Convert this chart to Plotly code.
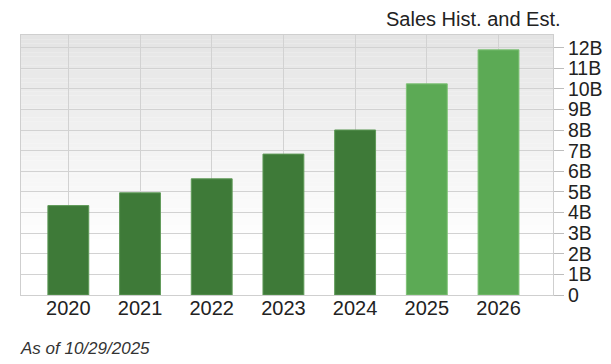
import plotly.graph_objects as go

years = ["2020", "2021", "2022", "2023", "2024", "2025", "2026"]
sales_b = [4.34, 4.96, 5.64, 6.84, 8.01, 10.25, 11.9]
is_estimate = [False, False, False, False, False, True, True]
ytick_vals = [0, 1, 2, 3, 4, 5, 6, 7, 8, 9, 10, 11, 12]
ytick_text = ["0", "1B", "2B", "3B", "4B", "5B", "6B", "7B", "8B", "9B", "10B", "11B", "12B"]

hist_color = "#3e7a38"
est_color = "#5caa55"
colors = [est_color if e else hist_color for e in is_estimate]
line_colors = ["#7fc276" if e else "#5f9a58" for e in is_estimate]

fig = go.Figure()
fig.add_trace(go.Bar(
    x=list(range(len(years))), y=sales_b,
    marker=dict(color=colors, line=dict(color=line_colors, width=1)),
    width=0.57,
))

# gradient background bands
n = 60
shapes = []
for i in range(n):
    y0 = i / n
    y1 = (i + 1) / n
    t = (y0 + y1) / 2
    f = max(0.0, (t - 0.2) / 0.8)
    v = int(round(255 - f * (255 - 228)))
    shapes.append(dict(type="rect", xref="x domain", yref="y domain",
                       x0=0, x1=1, y0=y0, y1=y1, layer="below",
                       line=dict(width=0), fillcolor=f"rgb({v},{v},{v})"))

fig.update_layout(
    width=603, height=356,
    margin=dict(l=13, r=58, t=27, b=69, autoexpand=False),
    paper_bgcolor="white", plot_bgcolor="rgba(0,0,0,0)",
    showlegend=False,
    shapes=shapes,
    font=dict(family="Liberation Sans, Arial, sans-serif", size=20, color="#222"),
    xaxis=dict(
        range=[-0.66, 6.76], automargin=False,
        tickvals=list(range(len(years))), ticktext=years,
        showgrid=True, gridcolor="#d2d2d2", gridwidth=1,
        showline=True, linecolor="#cfcfcf", linewidth=1, mirror=True,
        ticks="", tickfont=dict(size=20, color="#222"),
        ticklabelstandoff=-5,
        zeroline=False,
    ),
    yaxis=dict(
        side="right", range=[0, 12.62], automargin=False,
        tickvals=ytick_vals, ticktext=ytick_text,
        showgrid=True, gridcolor="#d2d2d2", gridwidth=1,
        showline=True, linecolor="#cfcfcf", linewidth=1, mirror=True,
        ticks="outside", ticklen=10, tickcolor="#bdbdbd", tickwidth=1,
        tickfont=dict(size=19.5, color="#222"),
        zeroline=False,
    ),
    annotations=[
        dict(text="Sales Hist. and Est.", xref="paper", yref="paper",
             x=1.0, y=1.0, xanchor="right", yanchor="bottom", xshift=10, yshift=3,
             showarrow=False, font=dict(size=20, color="#222")),
        dict(text="<i>As of 10/29/2025</i>", xref="paper", yref="paper",
             x=0, y=0, xanchor="left", yanchor="middle", yshift=-53, xshift=-3,
             showarrow=False, font=dict(size=17, color="#333")),
    ],
)

fig.write_html("out.html")
